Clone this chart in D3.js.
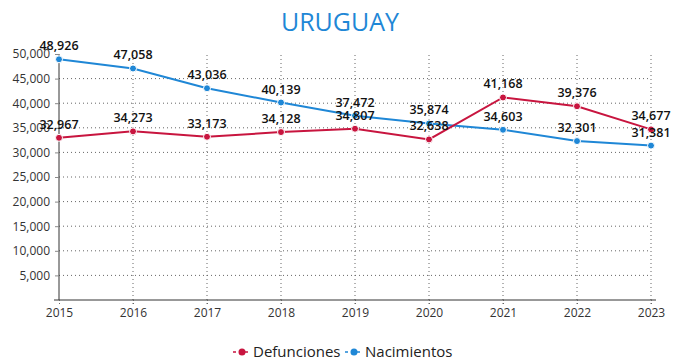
<!DOCTYPE html>
<html><head><meta charset="utf-8">
<script src="https://cdn.jsdelivr.net/npm/d3@7"></script>
<style>body{margin:0;background:#fff;} svg{display:block;font-family:"Open Sans",sans-serif;}</style>
</head><body><svg id="c" width="680" height="363"></svg>
<script>
const years = [2015,2016,2017,2018,2019,2020,2021,2022,2023];
const defunciones = [32967,34273,33173,34128,34807,32638,41168,39376,34677];
const nacimientos = [48926,47058,43036,40139,37472,35874,34603,32301,31381];
const yTicks = [5000,10000,15000,20000,25000,30000,35000,40000,45000,50000];
const seriesNames = ["Defunciones","Nacimientos"];
const colors = ["#c8153f","#1f87d6"];

const svg = d3.select("#c");
const x = d3.scalePoint().domain(years).range([59,651]);
const y = d3.scaleLinear().domain([0,50000]).range([300,54]);

svg.append("text").attr("x",340).attr("y",31).attr("text-anchor","middle")
  .attr("font-size",25).attr("fill","#1f87d6").text("URUGUAY");

// grid
svg.append("g").selectAll("line").data(yTicks.filter(d=>d<50000)).join("line")
  .attr("x1",59).attr("x2",651).attr("y1",d=>y(d)).attr("y2",d=>y(d))
  .attr("stroke","#666").attr("stroke-dasharray","1,3");
svg.append("g").selectAll("line").data(years.slice(1)).join("line")
  .attr("x1",d=>x(d)).attr("x2",d=>x(d)).attr("y1",y(0)+4).attr("y2",y(50000))
  .attr("stroke","#666").attr("stroke-dasharray","1,3");

const ya = svg.append("g").attr("transform","translate(59,0)")
  .call(d3.axisLeft(y).tickValues(yTicks).tickFormat(d3.format(",")).tickSize(4).tickPadding(5));
ya.select(".domain").attr("d","M0,"+y(50000)+"V"+y(0)).attr("stroke","#333");
ya.selectAll("text").attr("font-size",12).attr("fill","#333").attr("font-family","Open Sans");
ya.selectAll(".tick line").attr("stroke","#888");

const xa = svg.append("g").attr("transform","translate(0,300)")
  .call(d3.axisBottom(x).tickSize(4).tickPadding(4).tickFormat(d3.format("d")));
xa.select(".domain").attr("d","M54,0H656").attr("stroke","#333");
xa.selectAll("text").attr("font-size",12).attr("fill","#333").attr("font-family","Open Sans");
xa.selectAll(".tick line").attr("stroke","#666").attr("stroke-dasharray","1,2");

const data = [defunciones, nacimientos];
const line = d3.line().x((d,i)=>x(years[i])).y(d=>y(d));
[1,0].forEach(k=>{
  svg.append("path").datum(data[k]).attr("d",line).attr("fill","none")
    .attr("stroke",colors[k]).attr("stroke-width",2);
  svg.append("g").selectAll("circle").data(data[k]).join("circle")
    .attr("cx",(d,i)=>x(years[i])).attr("cy",d=>y(d)).attr("r",3.5)
    .attr("fill",colors[k]).attr("stroke","#fff").attr("stroke-width",1);
});
[0,1].forEach(k=>{
  svg.append("g").selectAll("text").data(data[k]).join("text")
    .attr("x",(d,i)=>x(years[i])).attr("y",d=>y(d)-9)
    .attr("text-anchor","middle").attr("font-size",12.5).attr("font-weight",600)
    .attr("fill","#111").text(d=>d3.format(",")(d));
});

// legend
const lg = svg.append("g").attr("transform","translate(0,352)");
const items = [{x:233,n:0},{x:345,n:1}];
items.forEach(it=>{
  const g = lg.append("g").attr("transform",`translate(${it.x},0)`);
  g.append("line").attr("x1",0).attr("x2",18).attr("y1",0).attr("y2",0)
    .attr("stroke",colors[it.n]).attr("stroke-width",1.5).attr("stroke-dasharray","3,3");
  g.append("circle").attr("cx",9).attr("cy",0).attr("r",3.5).attr("fill",colors[it.n]);
  g.append("text").attr("x",20).attr("y",5).attr("font-size",15).attr("fill","#222")
    .text(seriesNames[it.n]);
});
</script></body></html>
